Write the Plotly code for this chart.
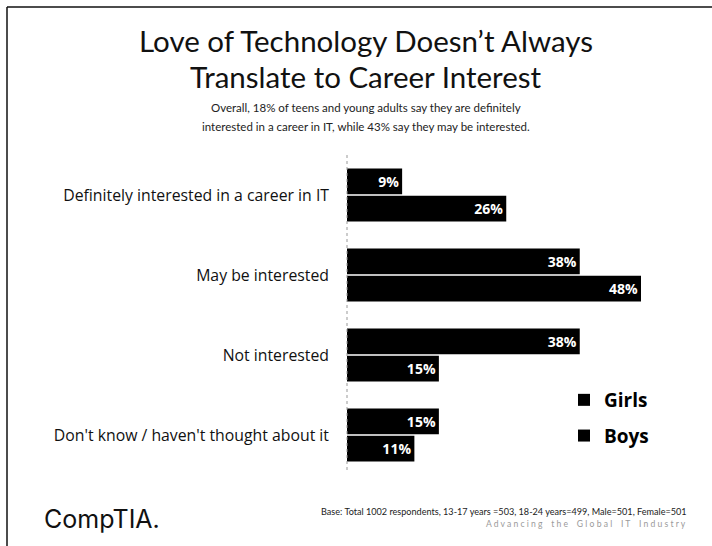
import plotly.graph_objects as go

categories = [
    "Definitely interested in a career in IT",
    "May be interested",
    "Not interested",
    "Don't know / haven't thought about it",
]
girls = [9, 38, 38, 15]
boys = [26, 48, 15, 11]

W, H = 712, 546
ML, MR, MT, MB = 347, 28, 155, 71
PW, PH = W - ML - MR, H - MT - MB


def px(x):
    """Pixel column -> paper x."""
    return (x - ML) / PW


def py(y):
    """Pixel row -> paper y."""
    return (H - MB - y) / PH


TITLE_FONT = "Lato"
BODY_FONT = "Open Sans"

fig = go.Figure()
for name, vals in [("Girls", girls), ("Boys", boys)]:
    fig.add_trace(go.Bar(
        name=name,
        legendgroup=name,
        y=categories,
        x=vals,
        orientation="h",
        marker=dict(color="#000000", line=dict(width=0)),
        texttemplate="<b>%{x}%</b>",
        textposition="inside",
        insidetextanchor="end",
        textfont=dict(color="white", size=14, family=BODY_FONT),
        cliponaxis=False,
    ))

fig.update_layout(
    width=W, height=H,
    margin=dict(l=ML, r=MR, t=MT, b=MB),
    paper_bgcolor="white", plot_bgcolor="white",
    barmode="group", bargap=0.32, bargroupgap=0.06,
    showlegend=True,
    legend=dict(
        x=px(564), y=py(381), xanchor="left", yanchor="top",
        traceorder="grouped",
        font=dict(size=19, family=BODY_FONT, color="black", weight="bold"),
        itemwidth=30, tracegroupgap=8,
        bgcolor="rgba(0,0,0,0)",
    ),
    xaxis=dict(range=[0, PW / 6.125], visible=False, fixedrange=True),
    yaxis=dict(
        autorange="reversed",
        showline=False,
        showgrid=False, ticks="", ticklen=0,
        tickfont=dict(size=15.8, family=BODY_FONT, color="#111111"),
        ticklabelstandoff=17,
    ),
    font=dict(family=BODY_FONT, color="#111111"),
)

# Dotted category axis line
fig.add_shape(type="line", xref="paper", yref="paper",
              x0=0, x1=0, y0=py(470), y1=py(153),
              line=dict(color="#999999", width=1, dash="dot"))

# Headline and subtitle
for txt, yy in [("Love of Technology Doesn\u2019t Always", 40),
                ("Translate to Career Interest", 76)]:
    fig.add_annotation(
        text=txt, xref="paper", yref="paper", x=px(366), y=py(yy),
        xanchor="center", yanchor="middle", showarrow=False,
        font=dict(size=29.5, family=TITLE_FONT, color="#111111"),
    )
for txt, yy in [("Overall, 18% of teens and young adults say they are definitely", 108),
                ("interested in a career in IT, while 43% say they may be interested.", 126)]:
    fig.add_annotation(
        text=txt, xref="paper", yref="paper", x=px(366), y=py(yy),
        xanchor="center", yanchor="middle", showarrow=False,
        font=dict(size=11.5, family=TITLE_FONT, color="#222222"),
    )

# Footer: brand and base note
fig.add_annotation(
    text="CompTIA.", xref="paper", yref="paper",
    x=px(42), y=py(519), xanchor="left", yanchor="middle", showarrow=False,
    font=dict(size=25, family="Inter", color="#111111"),
)
fig.add_annotation(
    text="Base: Total 1002 respondents, 13-17 years =503, 18-24 years=499, Male=501, Female=501",
    xref="paper", yref="paper", x=px(689), y=py(511),
    xanchor="right", yanchor="middle", showarrow=False,
    font=dict(size=9.1, family=TITLE_FONT, color="#222222"),
)
fig.add_annotation(
    text="A d v a n c i n g    t h e    G l o b a l    I T    I n d u s t r y",
    xref="paper", yref="paper", x=px(688), y=py(524),
    xanchor="right", yanchor="middle", showarrow=False,
    font=dict(size=8.6, family=TITLE_FONT, color="#9a9a9a"),
)

# Page frame along the top and left edges
fig.add_shape(type="line", xref="paper", yref="paper",
              x0=px(7), x1=px(712), y0=py(7), y1=py(7),
              line=dict(color="#111111", width=1.5))
fig.add_shape(type="line", xref="paper", yref="paper",
              x0=px(7), x1=px(7), y0=py(7), y1=py(546),
              line=dict(color="#111111", width=1.5))

fig.write_html("out.html")
